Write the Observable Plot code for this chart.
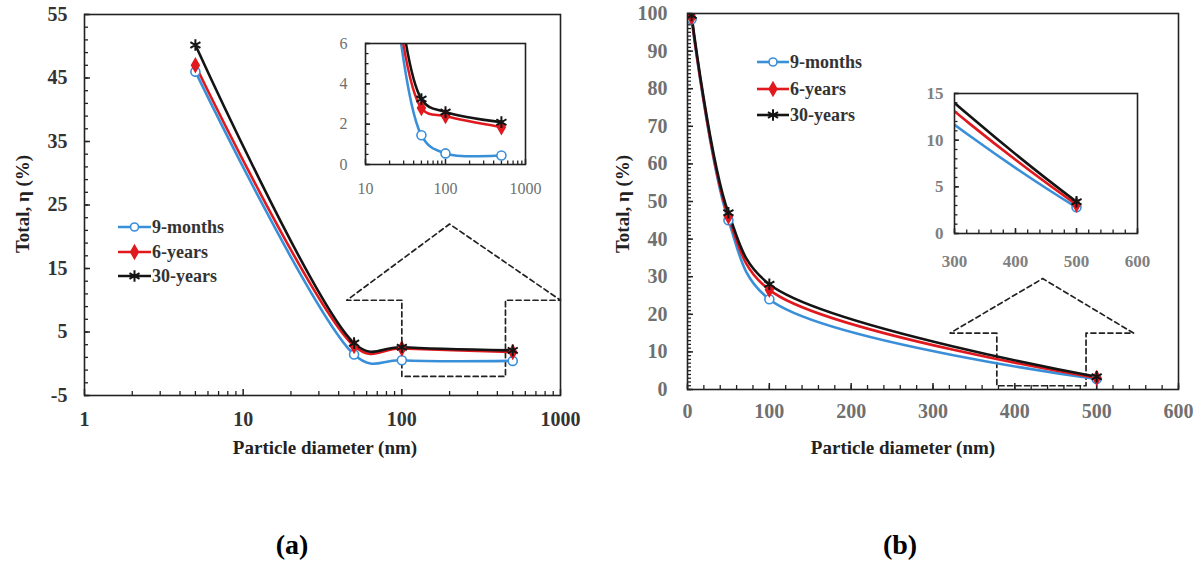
<!DOCTYPE html>
<html>
<head>
<meta charset="utf-8">
<script src="https://cdn.jsdelivr.net/npm/d3@7"></script>
<script src="https://cdn.jsdelivr.net/npm/@observablehq/plot@0.6"></script>
<style>
  body { margin: 0; background: #fff; }
  #root { position: relative; width: 1204px; height: 567px; overflow: hidden; background: #fff;
          font-family: "Liberation Serif", "Times New Roman", serif; }
  .title { position: absolute; font-weight: bold; color: #222; white-space: nowrap; line-height: 1; }
  .leg { position: absolute; display: flex; align-items: center; font-weight: bold; font-size: 18px; color: #333; white-space: nowrap; line-height: 1; }
</style>
</head>
<body>
<div id="root"></div>
<script>
// ---------------- data ----------------
const diam = [5, 50, 100, 500];
const seriesNames = ["9-months", "6-years", "30-years"];
const seriesColors = ["#3a8fd9", "#e0191f", "#141414"];
const seriesSymbols = ["circle", "diamond", "asterisk"];

// panel (a)
const a9months = [46, 1.45, 0.55, 0.45];
const a6years  = [47, 2.8, 2.4, 1.85];
const a30years = [50.2, 3.25, 2.6, 2.1];
// panel (b)
const b9months = [98.5, 45, 24, 2.8];
const b6years  = [99, 46, 26.5, 3.1];
const b30years = [99.5, 47, 28, 3.4];

// ticks
const aXTicks = [1, 10, 100, 1000];
const aYTicks = [-5, 5, 15, 25, 35, 45, 55];
const aInsetXTicks = [10, 100, 1000];
const aInsetYTicks = [0, 2, 4, 6];
const bXTicks = [0, 100, 200, 300, 400, 500, 600];
const bYTicks = [0, 10, 20, 30, 40, 50, 60, 70, 80, 90, 100];
const bInsetXTicks = [300, 400, 500, 600];
const bInsetYTicks = [0, 5, 10, 15];

// dashed zoom call-outs
const aZoomX = [100, 45, 200, 1000, 450, 450, 100, 100];
const aZoomY = [10, 10, 22, 10, 10, -2, -2, 10];
const bZoomX = [378, 321, 434, 545, 487, 487, 378, 378];
const bZoomY = [15, 15, 29.5, 15, 15, 1, 1, 15];

// ---------------- helpers ----------------
function table(...cols) {
  const rows = [];
  cols.forEach((vals, i) => vals.forEach((v, j) => rows.push({series: seriesNames[i], d: diam[j], v})));
  return rows;
}
const dataA = table(a9months, a6years, a30years);
const dataB = table(b9months, b6years, b30years);
const boxA = aZoomX.map((x, i) => ({x, y: aZoomY[i]}));
const boxB = bZoomX.map((x, i) => ({x, y: bZoomY[i]}));

const logMinor = (lo, hi) => {
  const out = [];
  for (let dec = lo; dec < hi; dec *= 10) for (let k = 2; k <= 9; k++) out.push(dec * k);
  return out;
};
const linMinor = (lo, hi, step) => d3.range(lo, hi + step / 2, step);

function panel(o) {
  const marks = [];
  if (o.white) marks.push(Plot.frame({fill: "white", stroke: "none"}));
  if (o.box) marks.push(Plot.line(o.box, {x: "x", y: "y", stroke: "#222", strokeWidth: 1.7, strokeDasharray: "5,3.5"}));
  // inward tick marks
  marks.push(Plot.axisX({anchor: "bottom", ticks: o.xMinor, tickSize: -o.minorLen, tickFormat: () => "", label: null, stroke: "#222", strokeWidth: 1.3}));
  marks.push(Plot.axisX({anchor: "bottom", ticks: o.xMajor, tickSize: -o.majorLen, tickFormat: () => "", label: null, stroke: "#222", strokeWidth: 1.5}));
  marks.push(Plot.axisY({anchor: "left", ticks: o.yMinor, tickSize: -o.minorLen, tickFormat: () => "", label: null, stroke: "#222", strokeWidth: 1.3}));
  marks.push(Plot.axisY({anchor: "left", ticks: o.yMajor, tickSize: -o.majorLen, tickFormat: () => "", label: null, stroke: "#222", strokeWidth: 1.5}));
  // tick labels
  marks.push(Plot.axisX({anchor: "bottom", ticks: o.xMajor, tickSize: 0, tickPadding: o.padX, tickFormat: d => String(d), label: null,
    fill: o.labelColor, fontSize: o.fs, fontWeight: o.fw}));
  marks.push(Plot.axisY({anchor: "left", ticks: o.yMajor, tickSize: 0, tickPadding: o.padY, tickFormat: d => String(d), label: null,
    fill: o.labelColor, fontSize: o.fs, fontWeight: o.fw}));
  // series lines
  seriesNames.forEach((s, i) => {
    marks.push(Plot.line(o.data.filter(d => d.series === s), {
      x: "d", y: "v", stroke: seriesColors[i], strokeWidth: o.lw, curve: "catmull-rom", tension: o.tension, clip: true
    }));
  });
  // markers
  seriesNames.forEach((s, i) => {
    const sym = seriesSymbols[i];
    marks.push(Plot.dot(o.data.filter(d => d.series === s), {
      x: "d", y: "v", symbol: sym, clip: true,
      r: sym === "asterisk" ? o.r + 1 : (sym === "diamond" ? o.r - 0.5 : o.r),
      stroke: seriesColors[i],
      fill: sym === "circle" ? "white" : (sym === "diamond" ? seriesColors[i] : "none"),
      strokeWidth: sym === "asterisk" ? 2 : 1.6
    }));
  });
  marks.push(Plot.frame({stroke: "#222", strokeWidth: 1.6}));

  const svg = Plot.plot({
    width: o.width, height: o.height,
    marginLeft: o.fl, marginRight: o.width - o.fr, marginTop: o.ft, marginBottom: o.height - o.fb,
    x: {type: o.xType, domain: o.xDomain},
    y: {type: "linear", domain: o.yDomain},
    style: {background: "transparent", fontFamily: "'Liberation Serif', 'Times New Roman', serif", overflow: "visible"},
    marks
  });
  svg.style.position = "absolute";
  svg.style.left = o.left + "px";
  svg.style.top = o.top + "px";
  svg.style.maxWidth = "none";
  return svg;
}

const root = document.getElementById("root");

// ---------------- panel (a) ----------------
root.appendChild(panel({
  left: 0, top: 0, width: 590, height: 470,
  fl: 84, fr: 560, ft: 14, fb: 395,
  xType: "log", xDomain: [1, 1000], yDomain: [-5, 55],
  xMajor: aXTicks, xMinor: logMinor(1, 1000),
  yMajor: aYTicks, yMinor: linMinor(-5, 55, 2),
  majorLen: 6, minorLen: 4,
  padX: 16, padY: 17, fs: 20, fw: "bold", labelColor: "#333",
  data: dataA, box: boxA, lw: 2.6, r: 4.5, tension: 0.35
}));
root.appendChild(panel({
  left: 300, top: 20, width: 250, height: 190,
  fl: 65, fr: 225, ft: 23, fb: 144,
  xType: "log", xDomain: [10, 1000], yDomain: [0, 6],
  xMajor: aInsetXTicks, xMinor: logMinor(10, 1000),
  yMajor: aInsetYTicks, yMinor: linMinor(0, 6, 0.5),
  majorLen: 5, minorLen: 3.5,
  padX: 18, padY: 18, fs: 16, fw: "normal", labelColor: "#707070",
  data: dataA, white: true, lw: 2.6, r: 4.5, tension: 0.5
}));

// ---------------- panel (b) ----------------
root.appendChild(panel({
  left: 600, top: 0, width: 604, height: 470,
  fl: 87, fr: 578, ft: 13, fb: 389,
  xType: "linear", xDomain: [0, 600], yDomain: [0, 100],
  xMajor: bXTicks, xMinor: linMinor(0, 600, 20),
  yMajor: bYTicks, yMinor: linMinor(0, 100, 1),
  majorLen: 6, minorLen: 4,
  padX: 14, padY: 20, fs: 20, fw: "bold", labelColor: "#707070",
  data: dataB, box: boxB, lw: 2.6, r: 4.5, tension: 0.5
}));
root.appendChild(panel({
  left: 880, top: 70, width: 290, height: 210,
  fl: 74, fr: 257, ft: 23, fb: 163,
  xType: "linear", xDomain: [300, 600], yDomain: [0, 15],
  xMajor: bInsetXTicks, xMinor: linMinor(300, 600, 20),
  yMajor: bInsetYTicks, yMinor: linMinor(0, 15, 1),
  majorLen: 5, minorLen: 3.5,
  padX: 21, padY: 11, fs: 17, fw: "bold", labelColor: "#808080",
  data: dataB, white: true, lw: 2.6, r: 4.5, tension: 0.5
}));

// ---------------- titles ----------------
function addText(txt, cx, cy, size, rotate, extra) {
  const el = document.createElement("div");
  el.className = "title";
  el.textContent = txt;
  el.style.fontSize = size + "px";
  el.style.left = cx + "px";
  el.style.top = cy + "px";
  el.style.transform = "translate(-50%, -50%)" + (rotate ? " rotate(-90deg)" : "");
  if (extra) Object.assign(el.style, extra);
  root.appendChild(el);
}
addText("Particle diameter (nm)", 325, 447, 19);
addText("Total, η (%)", 22, 204, 19, true);
addText("Particle diameter (nm)", 903, 447, 19);
addText("Total, η (%)", 622, 204, 19, true);
addText("(a)", 292, 545, 28, false, {color: "#000"});
addText("(b)", 900, 545, 28, false, {color: "#000"});

// ---------------- legends ----------------
function addLegend(x, ys, lineW) {
  seriesNames.forEach((s, i) => {
    const row = document.createElement("div");
    row.className = "leg";
    row.style.left = x + "px";
    row.style.top = (ys[i] - 9) + "px";
    row.style.height = "18px";
    const svg = d3.create("svg").attr("width", lineW).attr("height", 18).style("display", "block");
    svg.append("line").attr("x1", 0).attr("x2", lineW).attr("y1", 9).attr("y2", 9)
      .attr("stroke", seriesColors[i]).attr("stroke-width", 2.6);
    const type = {circle: d3.symbolCircle, diamond: d3.symbolDiamond, asterisk: d3.symbolAsterisk}[seriesSymbols[i]];
    const rr = seriesSymbols[i] === "asterisk" ? 5.5 : 4;
    svg.append("path").attr("d", d3.symbol(type, Math.PI * rr * rr)())
      .attr("transform", `translate(${lineW / 2},9)`)
      .attr("stroke", seriesColors[i])
      .attr("stroke-width", seriesSymbols[i] === "asterisk" ? 2 : 1.6)
      .attr("fill", seriesSymbols[i] === "circle" ? "white" : (seriesSymbols[i] === "diamond" ? seriesColors[i] : "none"));
    row.appendChild(svg.node());
    const t = document.createElement("span");
    t.textContent = s;
    t.style.marginLeft = "1px";
    row.appendChild(t);
    root.appendChild(row);
  });
}
addLegend(118, [227, 252, 276], 33);
addLegend(757, [62, 89, 115], 32);
</script>
</body>
</html>
